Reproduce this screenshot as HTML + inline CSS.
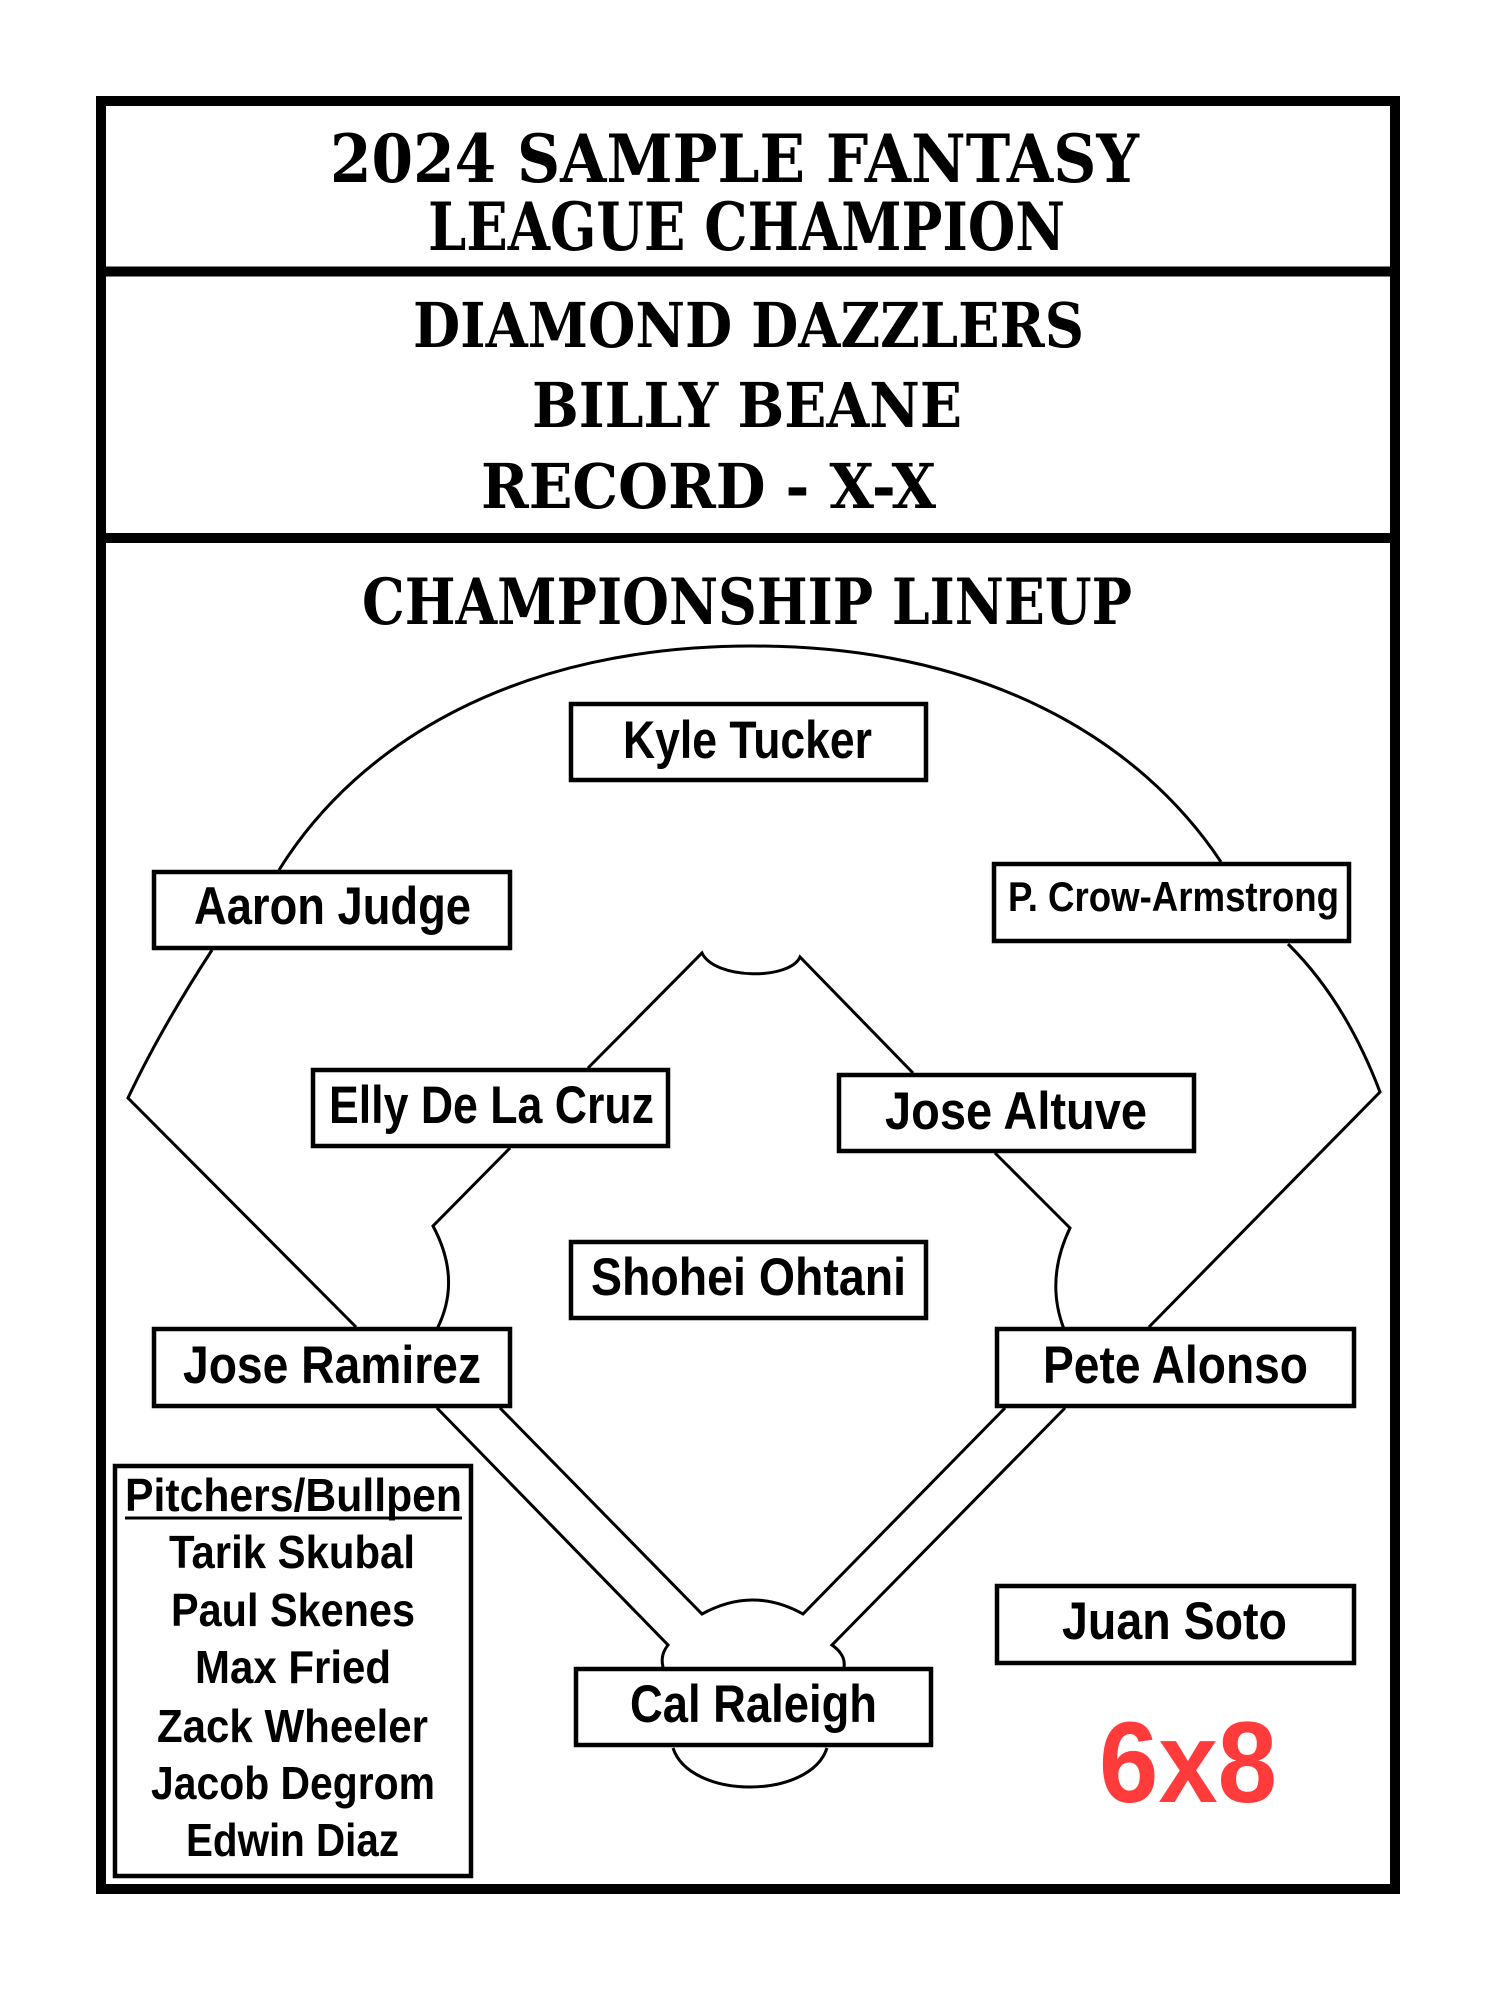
<!DOCTYPE html>
<html><head><meta charset="utf-8"><style>
html,body{margin:0;padding:0;background:#fff;}
svg{display:block;}
.t{font-family:"DejaVu Serif","Liberation Serif",serif;font-weight:bold;fill:#000;}
.n{font-family:"Liberation Sans","DejaVu Sans",sans-serif;font-weight:bold;fill:#000;}
</style></head><body>
<svg width="1500" height="2000" viewBox="0 0 1500 2000" xmlns="http://www.w3.org/2000/svg">
<rect width="1500" height="2000" fill="#fff"/>
<rect x="101" y="101" width="1294" height="1788" fill="none" stroke="#000" stroke-width="10"/>
<line x1="96" y1="271.5" x2="1400" y2="271.5" stroke="#000" stroke-width="10"/>
<line x1="96" y1="538" x2="1400" y2="538" stroke="#000" stroke-width="10"/>

<text class="t" x="330" y="182" font-size="66" textLength="809" lengthAdjust="spacingAndGlyphs">2024 SAMPLE FANTASY</text>
<text class="t" x="428" y="250" font-size="66" textLength="637" lengthAdjust="spacingAndGlyphs">LEAGUE CHAMPION</text>
<text class="t" x="413" y="347" font-size="62" textLength="671" lengthAdjust="spacingAndGlyphs">DIAMOND DAZZLERS</text>
<text class="t" x="532" y="427" font-size="62" textLength="430" lengthAdjust="spacingAndGlyphs">BILLY BEANE</text>
<text class="t" x="481" y="508" font-size="62" textLength="455" lengthAdjust="spacingAndGlyphs">RECORD - X-X</text>
<text class="t" x="362" y="624" font-size="64" textLength="770" lengthAdjust="spacingAndGlyphs">CHAMPIONSHIP LINEUP</text>

<g fill="none" stroke="#000" stroke-width="3">
<path d="M279,870 C360,740 520,646 752,646 C985,646 1140,740 1221,862"/>
<path d="M212,950 Q160,1030 128,1098 L356,1327"/>
<path d="M1288,944 Q1345,1000 1380,1092 L1149,1327"/>
<path d="M588,1068 L702,953 C715,980 790,980 800,957 L913,1073"/>
<path d="M510,1148 L433,1226 Q462,1280 437,1329"/>
<path d="M995,1153 L1070,1228 Q1045,1280 1064,1329"/>
<path d="M437,1408 L668,1645 Q660,1655 663,1667"/>
<path d="M500,1408 L702,1614 Q753,1586 803,1614 L1005,1408"/>
<path d="M1065,1408 L832,1645 Q846,1655 844,1667"/>
<path d="M673,1748 C690,1800 810,1800 827,1748"/>
</g>

<g fill="#fff" stroke="#000" stroke-width="4.5">
<rect x="571" y="704" width="355" height="76"/>
<rect x="154" y="872" width="356" height="76"/>
<rect x="994" y="864" width="355" height="77"/>
<rect x="313" y="1070" width="355" height="76"/>
<rect x="839" y="1075" width="355" height="76"/>
<rect x="571" y="1242" width="355" height="76"/>
<rect x="154" y="1329" width="356" height="77"/>
<rect x="997" y="1329" width="357" height="77"/>
<rect x="997" y="1586" width="357" height="77"/>
<rect x="576" y="1669" width="355" height="76"/>
<rect x="115" y="1466" width="356" height="410"/>
</g>

<text class="n" x="623" y="758" font-size="53" textLength="249" lengthAdjust="spacingAndGlyphs">Kyle Tucker</text>
<text class="n" x="194" y="924" font-size="53" textLength="277" lengthAdjust="spacingAndGlyphs">Aaron Judge</text>
<text class="n" x="1008" y="911" font-size="42" textLength="331" lengthAdjust="spacingAndGlyphs">P. Crow-Armstrong</text>
<text class="n" x="329" y="1123" font-size="53" textLength="325" lengthAdjust="spacingAndGlyphs">Elly De La Cruz</text>
<text class="n" x="885" y="1129" font-size="53" textLength="262" lengthAdjust="spacingAndGlyphs">Jose Altuve</text>
<text class="n" x="591" y="1295" font-size="53" textLength="315" lengthAdjust="spacingAndGlyphs">Shohei Ohtani</text>
<text class="n" x="183" y="1383" font-size="53" textLength="298" lengthAdjust="spacingAndGlyphs">Jose Ramirez</text>
<text class="n" x="1043" y="1383" font-size="53" textLength="265" lengthAdjust="spacingAndGlyphs">Pete Alonso</text>
<text class="n" x="1062" y="1639" font-size="53" textLength="225" lengthAdjust="spacingAndGlyphs">Juan Soto</text>
<text class="n" x="630" y="1722" font-size="53" textLength="247" lengthAdjust="spacingAndGlyphs">Cal Raleigh</text>

<text class="n" x="125" y="1511" font-size="46" textLength="337" lengthAdjust="spacingAndGlyphs">Pitchers/Bullpen</text>
<line x1="125" y1="1518" x2="462" y2="1518" stroke="#000" stroke-width="3"/>
<text class="n" x="169" y="1568" font-size="46" textLength="246" lengthAdjust="spacingAndGlyphs">Tarik Skubal</text>
<text class="n" x="171" y="1626" font-size="46" textLength="244" lengthAdjust="spacingAndGlyphs">Paul Skenes</text>
<text class="n" x="195" y="1683" font-size="46" textLength="196" lengthAdjust="spacingAndGlyphs">Max Fried</text>
<text class="n" x="157" y="1742" font-size="46" textLength="271" lengthAdjust="spacingAndGlyphs">Zack Wheeler</text>
<text class="n" x="151" y="1799" font-size="46" textLength="284" lengthAdjust="spacingAndGlyphs">Jacob Degrom</text>
<text class="n" x="186" y="1856" font-size="46" textLength="213" lengthAdjust="spacingAndGlyphs">Edwin Diaz</text>

<text class="n" x="1099" y="1802" font-size="115" style="fill:#ff3b3b" textLength="178" lengthAdjust="spacingAndGlyphs">6x8</text>
</svg>
</body></html>
